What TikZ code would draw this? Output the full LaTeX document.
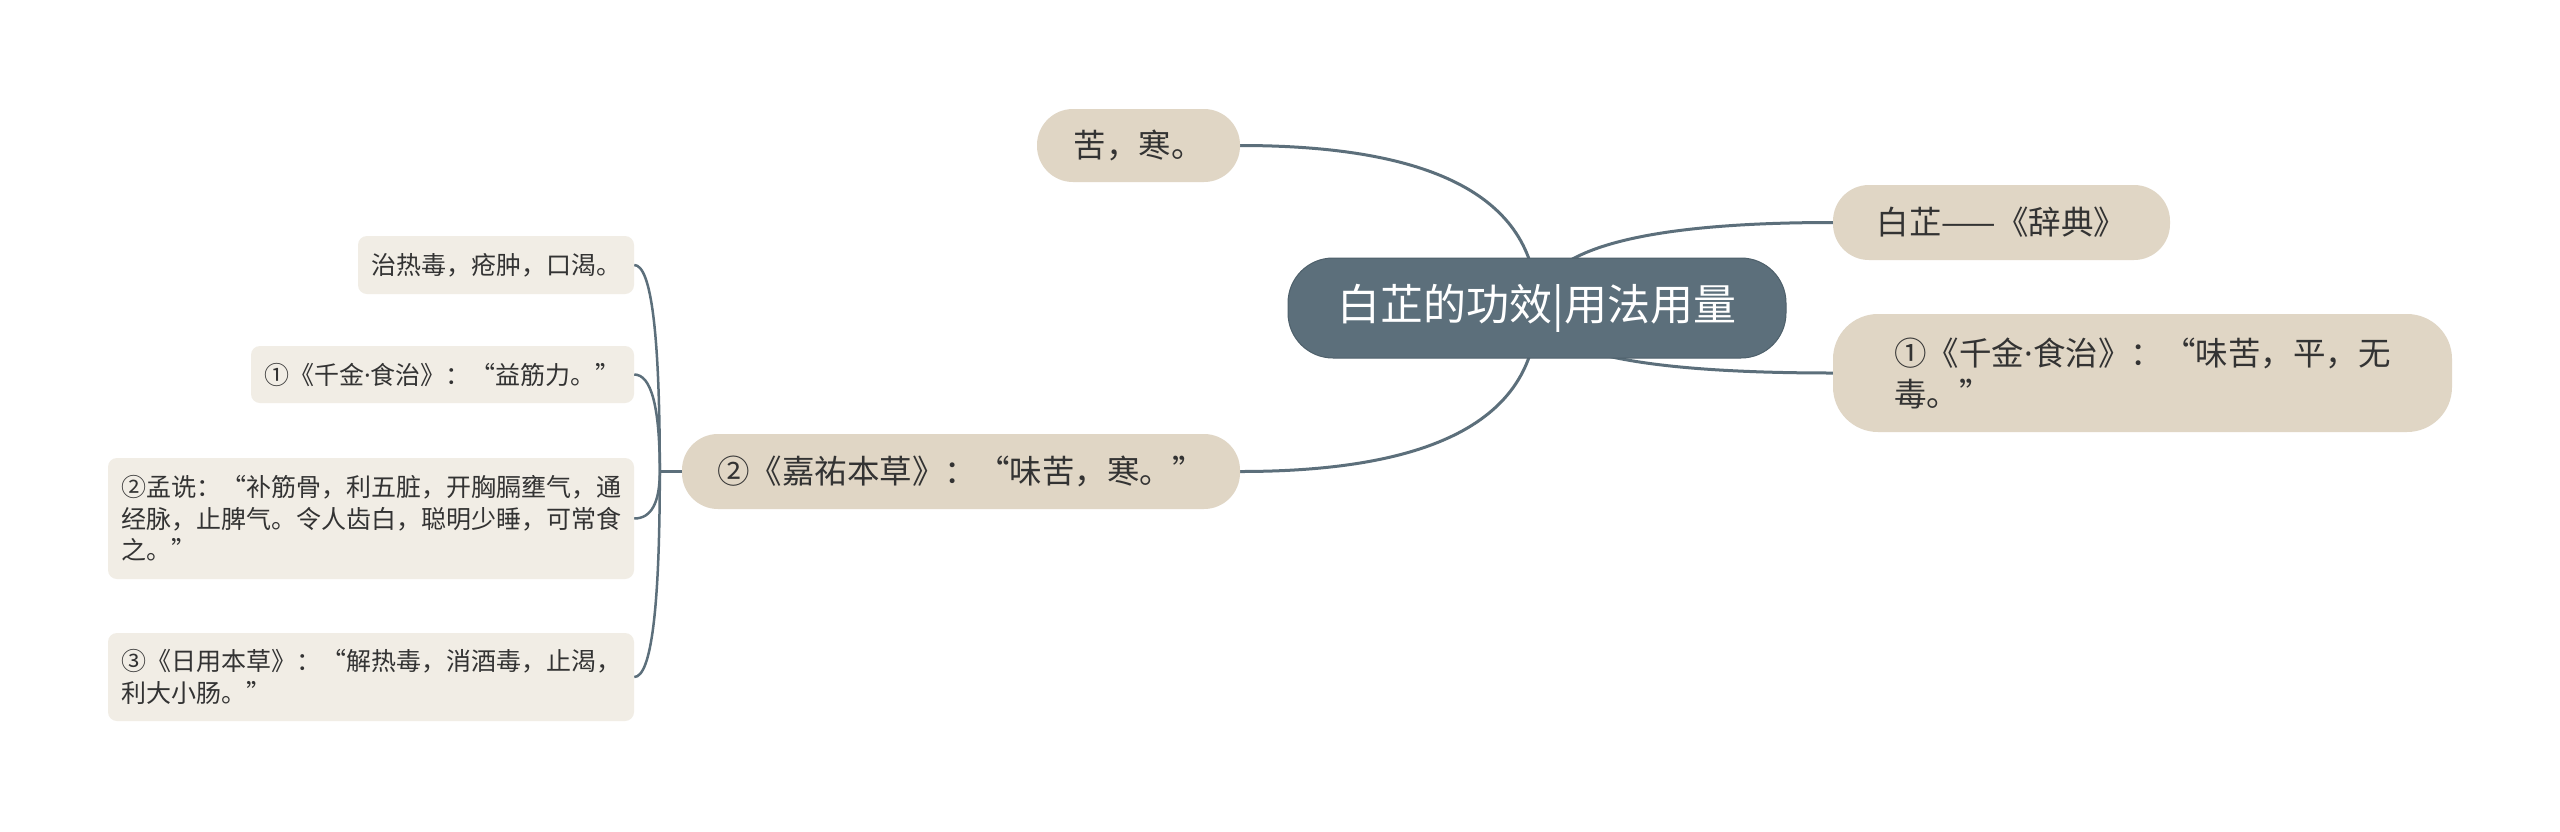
\documentclass[tikz,border=0pt]{standalone}
\usepackage{fontspec}
\setmainfont{Noto Sans CJK SC}
\newfontfamily\latinfont{Noto Sans}
\usetikzlibrary{calc,backgrounds}
\definecolor{rootfill}{HTML}{5C6F7B}
\definecolor{rootline}{HTML}{4E606B}
\definecolor{topicfill}{HTML}{E0D6C5}
\definecolor{leaffill}{HTML}{F1EDE5}
\definecolor{linecol}{HTML}{5C6F7B}
\definecolor{textcol}{HTML}{333333}
\newcommand{\mdot}{{\latinfont ·}}
\tikzset{
  rootnode/.style={rounded corners=45pt, fill=rootfill, draw=rootline, line width=1pt, text=white, inner sep=0pt, font=\fontsize{43}{50}\selectfont},
  topic/.style={rounded corners=36pt, fill=topicfill, text=textcol, inner sep=0pt, align=left, font=\fontsize{32.5}{41}\selectfont},
  leaf/.style={rounded corners=9pt, fill=leaffill, text=textcol, inner sep=0pt, align=left, font=\fontsize{25}{31.5}\selectfont},
  link/.style={draw=linecol, line width=3pt},
  sublink/.style={draw=linecol, line width=2.5pt}
}
\begin{document}
\begin{tikzpicture}[x=1pt, y=-1pt]
\useasboundingbox (0,0) rectangle (2560,831);
%centre and main topics
\coordinate (R) at (1537,308);
\coordinate (T1) at (1138.5,145.5);
\coordinate (T2) at (2001.5,222.5);
\coordinate (T3) at (2142.5,373);
\coordinate (T4) at (961,471.5);
%leaves of topic four
\coordinate (L1) at (496,265);
\coordinate (L2) at (442.5,374.5);
\coordinate (L3) at (371,518.5);
\coordinate (L4) at (371,677);

\node [rootnode, minimum width=498pt, minimum height=100pt] (root) at (R) {白芷的功效|用法用量};
\node [topic, minimum width=203pt, minimum height=73pt] (kuhan) at (T1) {苦，寒。};
\node [topic, minimum width=337pt, minimum height=75pt] (cidian) at (T2) {白芷——《辞典》};
\node [topic, rounded corners=45pt, minimum width=619pt, minimum height=118pt] (qianjin) at (T3) {①《千金\mdot 食治》：“味苦，平，无\\毒。”};
\node [topic, minimum width=558pt, minimum height=75pt] (jiayou) at (T4) {②《嘉祐本草》：“味苦，寒。”};

\node [leaf, minimum width=276pt, minimum height=58pt] (rema) at (L1) {治热毒，疮肿，口渴。};
\node [leaf, minimum width=383pt, minimum height=57pt] (jinli) at (L2) {①《千金\mdot 食治》：“益筋力。”};
\node [leaf, minimum width=526pt, minimum height=121pt] (mengshen) at (L3) {②孟诜：“补筋骨，利五脏，开胸膈壅气，通\\经脉，止脾气。令人齿白，聪明少睡，可常食\\之。”};
\node [leaf, minimum width=526pt, minimum height=88pt] (riyong) at (L4) {③《日用本草》：“解热毒，消酒毒，止渴，\\利大小肠。”};

\coordinate (J) at ($(jiayou.west)+(-22,0)$);

\begin{pgfonlayer}{background}
\fill [white] (0,0) rectangle (2560,831);
%connectors from the centre
\foreach \t/\a in {kuhan/east, cidian/west, qianjin/west, jiayou/east}{
  \coordinate (K) at (root.center |- \t.\a);
  \draw [link] (root.center) .. controls ($(root.center)!2/3!(K)$) and ($(\t.\a)!2/3!(K)$) .. (\t.\a);
}
%connectors to the leaves
\draw [sublink] (jiayou.west) -- (J);
\foreach \t in {rema, jinli, mengshen, riyong}{
  \coordinate (K) at (J |- \t.east);
  \draw [sublink] (J) .. controls ($(J)!2/3!(K)$) and ($(\t.east)!2/3!(K)$) .. (\t.east);
}
\end{pgfonlayer}
\end{tikzpicture}
\end{document}
